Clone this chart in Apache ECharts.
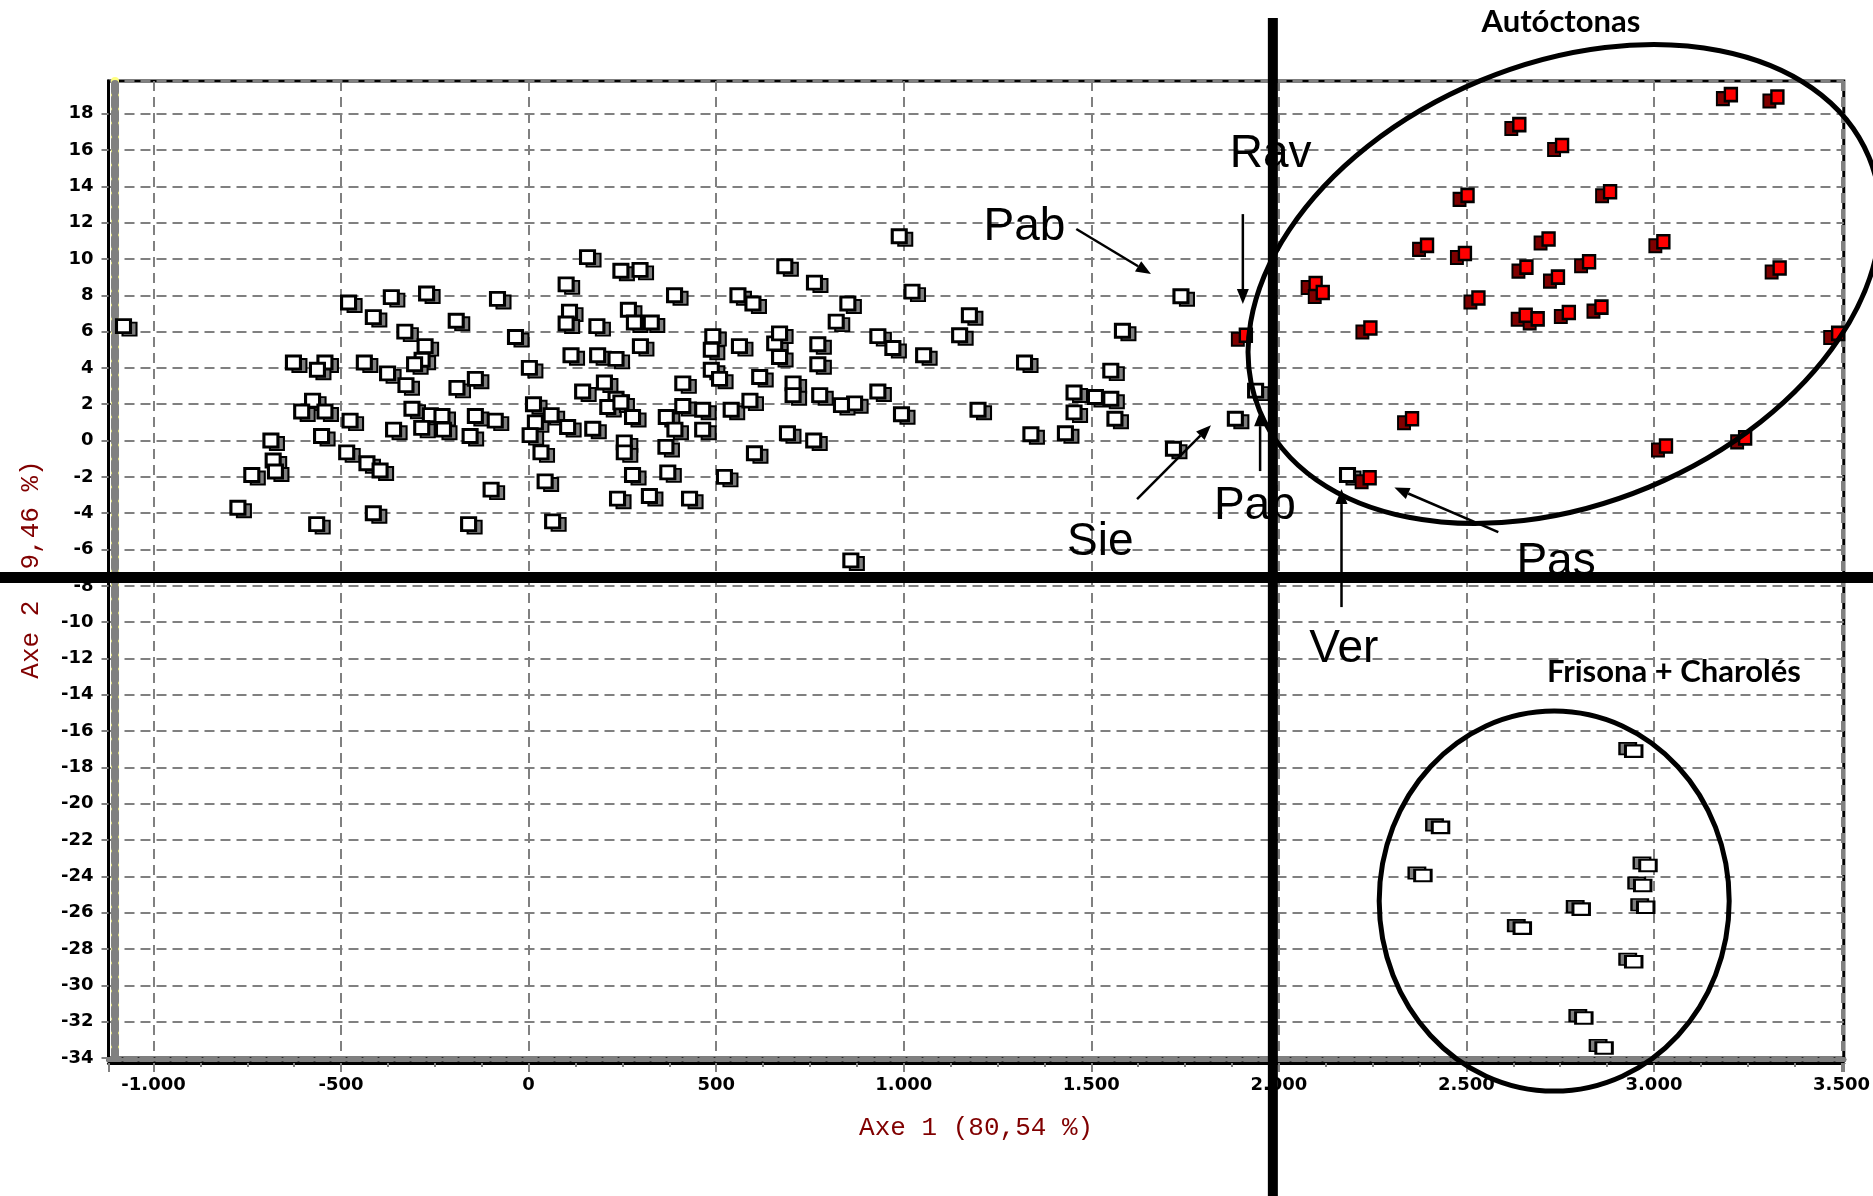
<!DOCTYPE html>
<html>
<head>
<meta charset="utf-8">
<title>Axe 1 / Axe 2 - Autóctonas, Frisona + Charolés</title>
<script src="https://cdn.jsdelivr.net/npm/echarts@6/dist/echarts.min.js"></script>
<style>
html, body { margin: 0; padding: 0; background: #fff; }
#chart { width: 1873px; height: 1196px; }
</style>
</head>
<body>
<div id="chart"></div>
<script>
// axis extents and titles
const xRange = [-1120, 3506];
const yRange = [-34, 19.8];
const xTitle = 'Axe 1 (80,54 %)';
const yTitle = 'Axe 2 (9,46 %)';

// individuals [Axe 1, Axe 2] - white squares (other herds)
const otras = [
  [-1080, 6.3],
  [-480, 7.6], [-414, 6.8], [-366, 7.9], [-272, 8.1], [-83, 7.8],
  [-193, 6.6], [-330, 6.0], [-35, 5.7], [-276, 5.2],
  [-284, 4.45], [-304, 4.2], [-627, 4.3], [-543, 4.3], [-563, 3.9], [-438, 4.3], [-376, 3.7], [2, 4.0],
  [-327, 3.05], [-191, 2.9], [-142, 3.4], [13, 2.0],
  [-576, 2.2], [-605, 1.6], [-543, 1.6], [-476, 1.1], [-552, 0.25], [-687, 0.0],
  [-311, 1.75], [-262, 1.4], [-231, 1.35], [-142, 1.35], [-89, 1.1], [-285, 0.7], [-227, 0.6], [-360, 0.6], [-156, 0.25],
  [18, 1.0], [4, 0.3], [60, 1.4], [33, -0.65],
  [-485, -0.65], [-431, -1.25], [-396, -1.65], [-681, -1.1], [-675, -1.7], [-738, -1.9],
  [-100, -2.7], [44, -2.25], [-775, -3.7], [-414, -4.0], [-565, -4.6], [-160, -4.6], [64, -4.45],
  [100, 8.6], [109, 7.1], [100, 6.45], [157, 10.1], [182, 6.3],
  [266, 7.2], [282, 6.5], [327, 6.5], [298, 5.2], [389, 8.0],
  [246, 9.35], [297, 9.4],
  [113, 4.7], [184, 4.7], [233, 4.5],
  [144, 2.7], [202, 3.2], [233, 2.3], [211, 1.85], [246, 2.1],
  [104, 0.75], [171, 0.65], [277, 1.3],
  [255, -0.1], [255, -0.65],
  [237, -3.2], [277, -1.9], [371, -1.75], [322, -3.05], [429, -3.2],
  [491, 5.75], [487, 5.0], [562, 5.2], [656, 5.35], [669, 5.9], [771, 5.3], [669, 4.6], [771, 4.2],
  [487, 3.9], [509, 3.4], [411, 3.15], [616, 3.5], [705, 3.15], [705, 2.5], [776, 2.5],
  [931, 2.7], [869, 2.05], [834, 1.95], [590, 2.2], [540, 1.7], [411, 1.9], [464, 1.7], [367, 1.3],
  [390, 0.6], [366, -0.35], [464, 0.6], [602, -0.7], [522, -2.0], [690, 0.4], [760, 0.0],
  [558, 8.0], [598, 7.55], [683, 9.6], [762, 8.7], [851, 7.55], [820, 6.55], [931, 5.75], [971, 5.1],
  [988, 11.25], [1022, 8.2], [1053, 4.7], [1149, 5.8], [1175, 6.9], [994, 1.45], [1198, 1.7],
  [859, -6.6],
  [1322, 4.3], [1552, 3.85], [1583, 6.05], [1739, 7.95], [1454, 2.65], [1511, 2.4], [1552, 2.3],
  [1454, 1.55], [1563, 1.2], [1339, 0.35], [1431, 0.4], [1719, -0.45], [1884, 1.2], [1938, 2.75],
  [2183, -1.9]
];

// red squares - Autóctonas
const autoctonas = [
  [3205, 19.05], [3329, 18.92], [2641, 17.4], [2755, 16.25], [2503, 13.5], [2883, 13.7],
  [2395, 10.75], [2496, 10.3], [2719, 11.1], [3025, 10.95], [3335, 9.5], [2098, 8.65],
  [2117, 8.15], [2532, 7.85], [2660, 9.55], [2827, 9.85], [2744, 9.0], [2244, 6.2],
  [2658, 6.9], [2690, 6.7], [2773, 7.05], [2860, 7.35], [3491, 5.9], [1912, 5.8],
  [2355, 1.2], [3032, -0.3], [3243, 0.15], [2242, -2.05]
];

// white squares with grey back - Frisona + Charolés
const frisonaCharoles = [
  [2946, -17.1], [2431, -21.3], [2384, -23.95], [2984, -23.4], [2970, -24.5], [2978, -25.7],
  [2806, -25.8], [2649, -26.85], [2946, -28.7], [2813, -31.8], [2867, -33.45]
];

// annotations (anchored in data units)
const groupLabels = [
  { text: 'Autóctonas', at: [2752, 23.05] },
  { text: 'Frisona + Charolés', at: [3053, -12.75] }
];
const pointLabels = [
  { text: 'Pab', at: [1322, 11.92] },
  { text: 'Rav', at: [1978, 15.91] },
  { text: 'Pab', at: [1936, -3.47] },
  { text: 'Sie', at: [1524, -5.45] },
  { text: 'Pas', at: [2739, -6.55] },
  { text: 'Ver', at: [2173, -11.32] }
];
const arrows = [
  { from: [1460, 11.65], to: [1659, 9.17] },
  { from: [1904, 12.47], to: [1904, 7.52] },
  { from: [1950, -1.68], to: [1950, 1.62] },
  { from: [1622, -3.22], to: [1819, 0.85] },
  { from: [2585, -5.04], to: [2308, -2.59] },
  { from: [2167, -9.17], to: [2167, -2.67] }
];
const groupCenters = [[2761, 8.62], [2734, -25.36]];
const crossAt = [1984, -7.54];

function fmtThousands(v) {
  const s = String(Math.abs(Math.round(v))).replace(/\B(?=(\d{3})+(?!\d))/g, '.');
  return (v < 0 ? '-' : '') + s;
}

function squares(data, size, offset, fill, border, z) {
  return {
    type: 'scatter',
    data: data,
    symbol: 'rect',
    symbolSize: size,
    symbolOffset: offset,
    itemStyle: { color: fill, borderColor: '#000', borderWidth: border, opacity: 1 },
    silent: true,
    z: z
  };
}

// plain axis used only to paint the striped frame edges
function frameAxis(position, range, offset, lineStyle) {
  return {
    type: 'value', position: position, min: range[0], max: range[1], offset: offset,
    axisLine: { show: true, onZero: false, lineStyle: lineStyle },
    axisTick: { show: false }, axisLabel: { show: false }, splitLine: { show: false }
  };
}

const labelFont = { fontFamily: 'DejaVu Sans', fontWeight: 'bold', fontSize: 18, color: '#000' };
const gridLine = { show: true, lineStyle: { color: '#808080', type: [10, 6], width: 2 } };
const titleFont = { fontFamily: 'Liberation Mono', fontSize: 26, color: '#800000' };

const chart = echarts.init(document.getElementById('chart'));
chart.setOption({
  animation: false,
  backgroundColor: '#fff',
  grid: {
    left: 108.5, right: 24, top: 81, bottom: 138,
    show: true, borderColor: '#000', borderWidth: 3, backgroundColor: 'transparent'
  },
  xAxis: [
    {
      type: 'value', position: 'bottom', min: xRange[0], max: xRange[1], splitNumber: 9,
      offset: 5,
      name: xTitle, nameLocation: 'middle', nameGap: 52, nameTextStyle: titleFont,
      axisLine: { show: true, onZero: false, lineStyle: { color: '#000', width: 3 } },
      axisTick: { show: true, length: 9, lineStyle: { color: '#808080', width: 2 } },
      minorTick: { show: true, splitNumber: 4, length: 4, lineStyle: { color: '#808080', width: 2 } },
      axisLabel: Object.assign({ margin: 13, showMinLabel: false, showMaxLabel: false, formatter: fmtThousands }, labelFont),
      splitLine: gridLine
    },
    frameAxis('bottom', xRange, 1, { color: '#000', width: 5 }),
    frameAxis('bottom', xRange, 1, { color: '#808080', width: 5, type: [12, 4] })
  ],
  yAxis: [
    {
      type: 'value', position: 'left', min: yRange[0], max: yRange[1], interval: 2,
      name: yTitle, nameLocation: 'middle', nameGap: 64, nameTextStyle: titleFont,
      axisLine: { show: true, onZero: false, lineStyle: { color: '#000', width: 3 } },
      axisTick: { show: true, length: 7, lineStyle: { color: '#808080', width: 2 } },
      axisLabel: Object.assign({ margin: 15, showMaxLabel: false }, labelFont),
      splitLine: gridLine
    },
    frameAxis('left', yRange, -6.5, { color: '#ffff80', width: 8 }),
    frameAxis('left', yRange, -6.5, { color: '#808080', width: 8, type: [8, 6] })
  ],
  series: [
    squares(otras, [14, 13], [6, 3], '#808080', 2, 2),
    squares(otras, [14, 13], [0, 0], '#ffffff', 3, 3),
    squares(autoctonas, [12, 13], [-8, 4], '#800000', 2, 4),
    squares(autoctonas, [12, 13], [0, 0], '#ff0000', 2.5, 5),
    squares(frisonaCharoles, [16.5, 11.5], [-6, -2.5], '#808080', 2, 4),
    squares(frisonaCharoles, [16.5, 11.5], [0, 0], '#ffffff', 2.5, 5)
  ]
});

// overlay drawn by the author: groups, names, arrows, cross lines
const toPx = p => chart.convertToPixel({ xAxisIndex: 0, yAxisIndex: 0 }, p);
const W = chart.getWidth(), H = chart.getHeight();
const graphics = [];

const ellipseShapes = [
  { rx: 330, ry: 220, angle: 22.6 },
  { rx: 175, ry: 190, angle: 0 }
];
groupCenters.forEach((c, i) => {
  const p = toPx(c);
  const e = ellipseShapes[i];
  graphics.push({
    type: 'ellipse', x: p[0], y: p[1], rotation: e.angle * Math.PI / 180,
    shape: { cx: 0, cy: 0, rx: e.rx, ry: e.ry },
    style: { fill: 'none', stroke: '#000', lineWidth: 5 }, z: 100, silent: true
  });
});

groupLabels.forEach(l => {
  const p = toPx(l.at);
  graphics.push({
    type: 'text', x: p[0], y: p[1], z: 100, silent: true,
    style: { text: l.text, font: 'bold 31px Lato', fill: '#000',
      align: 'center', verticalAlign: 'middle', textAlign: 'center', textVerticalAlign: 'middle' }
  });
});

pointLabels.forEach(l => {
  const p = toPx(l.at);
  graphics.push({
    type: 'text', x: p[0], y: p[1] + 3, z: 100, silent: true,
    style: { text: l.text, font: '46px "Liberation Sans"', fill: '#000',
      align: 'center', verticalAlign: 'middle', textAlign: 'center', textVerticalAlign: 'middle' }
  });
});

arrows.forEach(a => {
  const p0 = toPx(a.from), p1 = toPx(a.to);
  const dx = p1[0] - p0[0], dy = p1[1] - p0[1];
  const len = Math.hypot(dx, dy), ux = dx / len, uy = dy / len;
  const hl = 15, hw = 6;
  const bx = p1[0] - ux * hl, by = p1[1] - uy * hl;
  graphics.push({
    type: 'line', z: 100, silent: true,
    shape: { x1: p0[0], y1: p0[1], x2: bx, y2: by },
    style: { stroke: '#000', lineWidth: 2.5 }
  });
  graphics.push({
    type: 'polygon', z: 100, silent: true,
    shape: { points: [[p1[0], p1[1]], [bx - uy * hw, by + ux * hw], [bx + uy * hw, by - ux * hw]] },
    style: { fill: '#000' }
  });
});

const cross = toPx(crossAt);
graphics.push({
  type: 'line', z: 110, silent: true,
  shape: { x1: cross[0], y1: 18, x2: cross[0], y2: H },
  style: { stroke: '#000', lineWidth: 10 }
});
graphics.push({
  type: 'line', z: 110, silent: true,
  shape: { x1: 0, y1: cross[1], x2: W, y2: cross[1] },
  style: { stroke: '#000', lineWidth: 11 }
});

chart.setOption({ graphic: graphics });
</script>
</body>
</html>
